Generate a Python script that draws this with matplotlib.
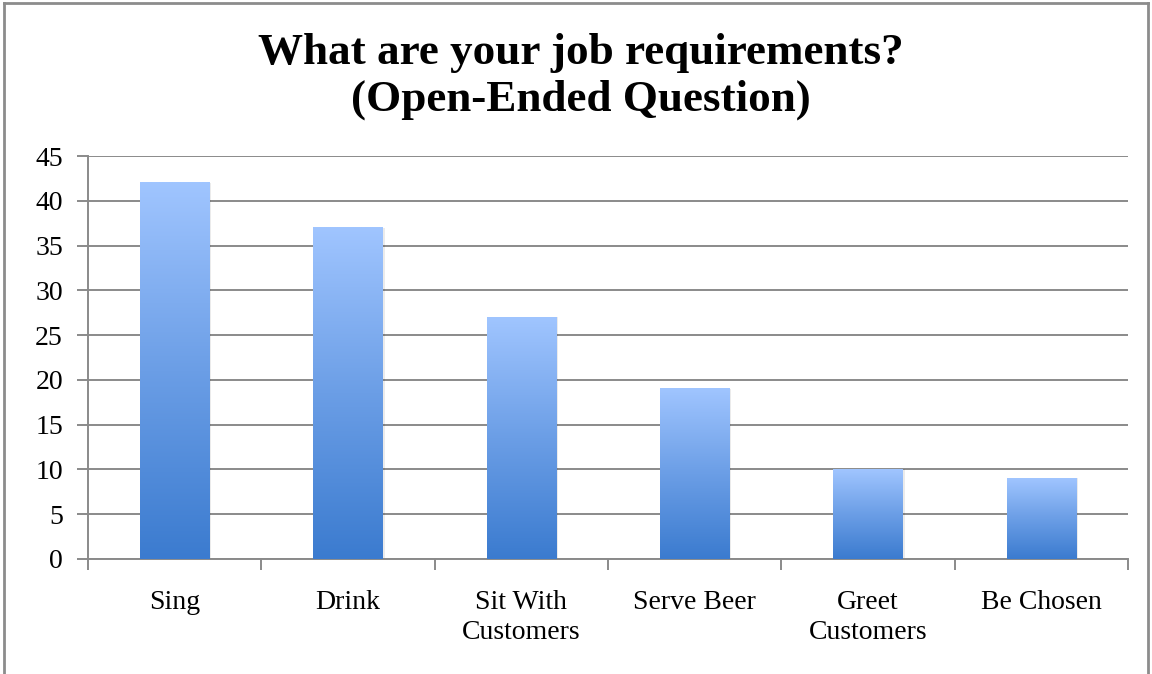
import numpy as np
import matplotlib
matplotlib.use("Agg")
import matplotlib.pyplot as plt
from matplotlib.colors import LinearSegmentedColormap
from matplotlib.lines import Line2D
from matplotlib.patches import Rectangle

# Survey responses
categories = ["Sing", "Drink", "Sit With\nCustomers", "Serve Beer", "Greet\nCustomers", "Be Chosen"]
counts = [42, 37, 27, 19, 10, 9]
y_ticks = list(range(0, 50, 5))
title_text = "What are your job requirements?\n(Open-Ended Question)"

W, H = 1152, 674
plt.rcParams["font.family"] = ["Liberation Serif", "DejaVu Serif"]

fig = plt.figure(figsize=(W / 100, H / 100), dpi=100)
ax = fig.add_axes([88 / W, 1 - 559 / H, (1128 - 88) / W, (559 - 156) / H])

grid_col = "#8a8a8a"
x = np.arange(len(categories))
bar_w = 0.40

bars = ax.bar(x, counts, width=bar_w, color="none", edgecolor="none", zorder=3)

# vertical gradient: light at the top of each bar, darker at the base
cmap = LinearSegmentedColormap.from_list("blues", ["#3b7bcf", "#6b9ee6", "#a0c5ff"])
grad = np.linspace(0, 1, 256).reshape(-1, 1)
for rect in bars:
    x0, w, h = rect.get_x(), rect.get_width(), rect.get_height()
    # soft shadow on the right side
    ax.add_patch(Rectangle((x0 + w, 0), 0.012, h, color="#000000", alpha=0.08,
                           lw=0, zorder=2.5))
    ax.imshow(grad, cmap=cmap, origin="lower", aspect="auto",
              extent=[x0, x0 + w, 0, h], zorder=3, interpolation="bilinear")

ax.set_xlim(-0.5, len(categories) - 0.5)
ax.set_ylim(0, 45)
ax.set_yticks(y_ticks)
ax.yaxis.grid(True, color=grid_col, lw=1.4, zorder=1)
ax.set_axisbelow(True)

ax.set_xticks(x)
ax.set_xticklabels(categories, fontsize=20, linespacing=1.3)
ax.set_xticks(np.arange(-0.5, len(categories)), minor=True)
ax.tick_params(axis="x", which="major", length=0, pad=22)
ax.tick_params(axis="x", which="minor", length=8, width=1.4, color=grid_col, direction="out")
ax.tick_params(axis="y", length=8, width=1.4, color=grid_col, direction="out",
               labelsize=20, pad=10)

for side in ("top", "right"):
    ax.spines[side].set_visible(False)
for side in ("left", "bottom"):
    ax.spines[side].set_color(grid_col)
    ax.spines[side].set_linewidth(1.4)

fig.text(581 / W, 1 - 33 / H, title_text, ha="center", va="top",
         fontsize=32.5, fontweight="bold", linespacing=1.2)

# outer chart frame
frame_col = "#8c8c8c"
fig.add_artist(Line2D([4 / W, 4 / W], [0, 1 - 3 / H], color=frame_col, lw=2,
                      transform=fig.transFigure))
fig.add_artist(Line2D([4 / W, 1148 / W], [1 - 3 / H, 1 - 3 / H], color=frame_col, lw=2,
                      transform=fig.transFigure))
fig.add_artist(Line2D([1148 / W, 1148 / W], [0, 1 - 3 / H], color=frame_col, lw=2,
                      transform=fig.transFigure))

fig.savefig("out.png", dpi=100)
